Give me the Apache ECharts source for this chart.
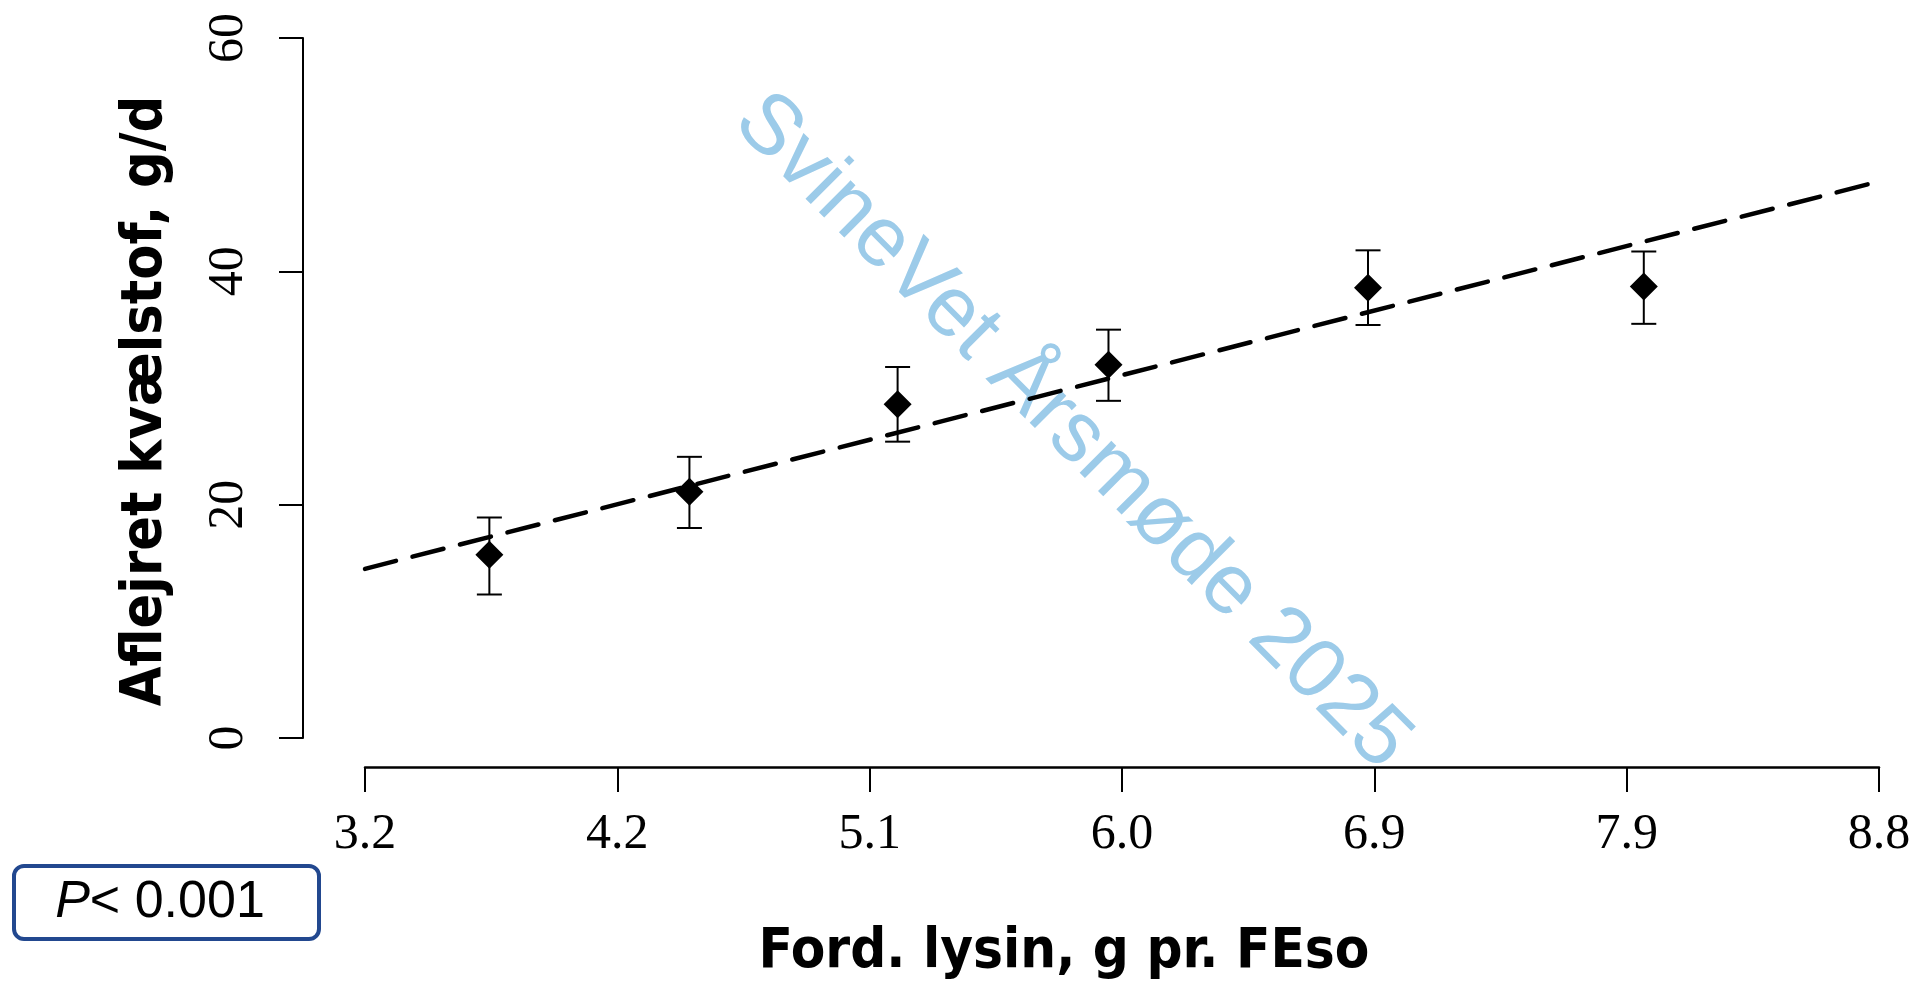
<!DOCTYPE html>
<html>
<head>
<meta charset="utf-8">
<title>Aflejret kvælstof</title>
<script src="https://cdn.jsdelivr.net/npm/echarts@6/dist/echarts.min.js"></script>
<style>
  html, body { margin: 0; padding: 0; background: #ffffff; }
  #chart { width: 1918px; height: 985px; }
</style>
</head>
<body>
<div id="chart"></div>
<script>
// data
const lysin = [3.66, 4.40, 5.17, 5.95, 6.91, 7.93]
const kvaelstof = [15.7, 21.1, 28.6, 32.0, 38.6, 38.7]
const errLow = [12.3, 18.0, 25.4, 28.9, 35.4, 35.5]
const errHigh = [18.9, 24.1, 31.8, 35.0, 41.8, 41.7]
// regression line end points
const fitX = [3.2, 8.8]
const fitY = [14.5, 47.7]
// x axis ticks (evenly spaced) and the labels printed under them
const xTicks = [3.2, 4.1333, 5.0667, 6.0, 6.9333, 7.8667, 8.8]
const xTickLabels = ['3.2', '4.2', '5.1', '6.0', '6.9', '7.9', '8.8']

const chart = echarts.init(document.getElementById('chart'))

const points = lysin.map((x, i) => [x, kvaelstof[i]])
const bars = lysin.map((x, i) => [x, errLow[i], errHigh[i]])
const fit = fitX.map((x, i) => [x, fitY[i]])

const titleFont = "'Liberation Sans Narrow', 'DejaVu Sans Condensed', 'Noto Sans', sans-serif"
const tickFont = "'Liberation Serif', 'DejaVu Serif', serif"

const option = {
  animation: false,
  backgroundColor: '#ffffff',
  grid: { left: 365, right: 39, top: 38, bottom: 242 },
  xAxis: {
    type: 'value',
    min: 3.2,
    max: 8.8,
    offset: 29,
    name: 'Ford. lysin, g pr. FEso',
    nameLocation: 'middle',
    nameGap: 157,
    nameTextStyle: {
      color: '#000', fontSize: 56, fontWeight: 'bold', fontFamily: titleFont,
      padding: [0, 116, 0, 0]
    },
    axisLine: { show: true, onZero: false, lineStyle: { color: '#000', width: 2.5 } },
    axisTick: { show: true, length: 25, lineStyle: { color: '#000', width: 2 }, customValues: xTicks },
    axisLabel: {
      customValues: xTicks,
      margin: 43,
      color: '#000',
      fontSize: 50,
      fontFamily: tickFont,
      formatter: v => {
        const i = xTicks.findIndex(t => Math.abs(t - v) < 1e-3)
        return i >= 0 ? xTickLabels[i] : ''
      }
    },
    splitLine: { show: false }
  },
  yAxis: {
    type: 'value',
    min: 0,
    max: 60,
    interval: 20,
    offset: 62,
    name: 'Aflejret kvælstof, g/d',
    nameLocation: 'middle',
    nameRotate: 90,
    nameGap: 128,
    nameTextStyle: {
      color: '#000', fontSize: 57, fontWeight: 'bold', fontFamily: titleFont,
      padding: [0, 26, 0, 0]
    },
    axisLine: { show: true, onZero: false, lineStyle: { color: '#000', width: 2 } },
    axisTick: { show: true, length: 24, lineStyle: { color: '#000', width: 2 } },
    axisLabel: {
      rotate: 90,
      margin: 49,
      color: '#000',
      fontSize: 50,
      fontFamily: tickFont
    },
    splitLine: { show: false }
  },
  graphic: [
    {
      // watermark
      type: 'text',
      x: 1072,
      y: 432,
      rotation: -Math.PI / 4,
      z: 1,
      style: {
        text: 'SvineVet Årsmøde 2025',
        fill: '#9ccbe9',
        font: "85px 'Liberation Sans', Arial, sans-serif",
        align: 'center',
        verticalAlign: 'middle'
      }
    },
    {
      type: 'group',
      x: 14,
      y: 866,
      children: [
        {
          type: 'rect',
          shape: { x: 0, y: 0, width: 305, height: 73, r: 10 },
          style: { fill: '#ffffff', stroke: '#22488f', lineWidth: 4 }
        },
        {
          type: 'text',
          x: 146,
          y: 37,
          style: {
            text: '{i|P}< 0.001',
            align: 'center',
            verticalAlign: 'middle',
            rich: {
              i: { fontStyle: 'italic', fontSize: 52, fill: '#000', fontFamily: "'Liberation Sans', sans-serif" }
            },
            fontSize: 52,
            fontFamily: "'Liberation Sans', sans-serif",
            fill: '#000'
          }
        }
      ]
    }
  ],
  series: [
    {
      name: 'fit',
      type: 'line',
      data: fit,
      symbol: 'none',
      z: 3,
      lineStyle: { color: '#000', width: 4.5, type: [32, 17], cap: 'round' }
    },
    {
      name: 'sem',
      type: 'custom',
      data: bars,
      z: 4,
      renderItem: (params, api) => {
        const lo = api.coord([api.value(0), api.value(1)])
        const hi = api.coord([api.value(0), api.value(2)])
        const hw = 12.5
        const style = { stroke: '#000', lineWidth: 2 }
        return {
          type: 'group',
          children: [
            { type: 'line', shape: { x1: lo[0], y1: lo[1], x2: hi[0], y2: hi[1] }, style },
            { type: 'line', shape: { x1: lo[0] - hw, y1: lo[1], x2: lo[0] + hw, y2: lo[1] }, style },
            { type: 'line', shape: { x1: hi[0] - hw, y1: hi[1], x2: hi[0] + hw, y2: hi[1] }, style }
          ]
        }
      }
    },
    {
      name: 'mean',
      type: 'scatter',
      data: points,
      symbol: 'diamond',
      symbolSize: 28,
      z: 5,
      itemStyle: { color: '#000', opacity: 1 }
    }
  ]
}
chart.setOption(option)
</script>
</body>
</html>
